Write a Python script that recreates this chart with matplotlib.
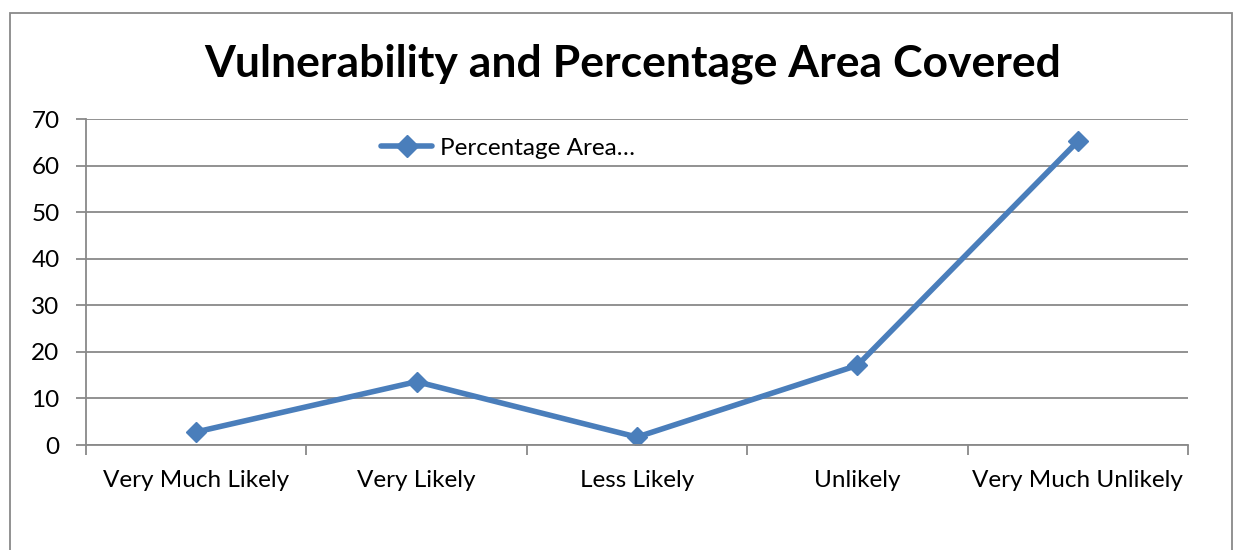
import matplotlib.pyplot as plt
from matplotlib.patches import Rectangle

categories = ['Very Much Likely', 'Very Likely', 'Less Likely', 'Unlikely', 'Very Much Unlikely']
percentage_area = [2.8, 13.6, 1.7, 17.1, 65.2]
yticks = [0, 10, 20, 30, 40, 50, 60, 70]

plt.rcParams['font.family'] = ['Lato', 'DejaVu Sans']

fig = plt.figure(figsize=(12.47, 5.5), dpi=100)
W, H = 1247, 550
ax = fig.add_axes([86 / W, 1 - 445 / H, (1188 - 86) / W, (445 - 119) / H])

# outer chart border (bottom edge is cut off in the original)
fig.add_artist(Rectangle((10 / W, -0.05), (1232 - 10) / W, 1 - 13 / H + 0.05,
                         transform=fig.transFigure, fill=False,
                         edgecolor='#898989', linewidth=1.3))

color = '#4A7EBB'
x = [i + 0.5 for i in range(len(categories))]
ax.plot(x, percentage_area, color=color, linewidth=4, marker='D', markersize=10,
        label='Percentage Area…', solid_capstyle='round')

ax.set_xlim(0, len(categories))
ax.set_ylim(0, 70)
ax.set_yticks(yticks)
ax.set_yticklabels([str(v) for v in yticks], fontsize=17.5)
ax.yaxis.grid(True, color='#898989', linewidth=1.3)
ax.set_axisbelow(True)

ax.set_xticks(range(len(categories) + 1))
ax.set_xticklabels([''] * (len(categories) + 1))
ax.set_xticks(x, minor=True)
ax.set_xticklabels(categories, minor=True, fontsize=17.5)
ax.tick_params(axis='x', which='minor', length=0, pad=18)
ax.tick_params(axis='x', which='major', length=7, width=1.3, color='#898989')
ax.tick_params(axis='y', length=7, width=1.3, color='#898989', pad=12)

for s in ['top', 'right']:
    ax.spines[s].set_visible(False)
for s in ['left', 'bottom']:
    ax.spines[s].set_color('#898989')
    ax.spines[s].set_linewidth(1.3)

fig.text(633 / W, 1 - 64 / H, 'Vulnerability and Percentage Area Covered',
         ha='center', va='center', fontsize=32, fontweight='bold')

ax.legend(loc='center', bbox_to_anchor=((508 - 86) / (1188 - 86), 1 - (148 - 119) / (445 - 119)),
          frameon=False, fontsize=17.5, handlelength=2.1, handletextpad=0.3,
          markerscale=1.1)

fig.savefig('out.png', dpi=100)
